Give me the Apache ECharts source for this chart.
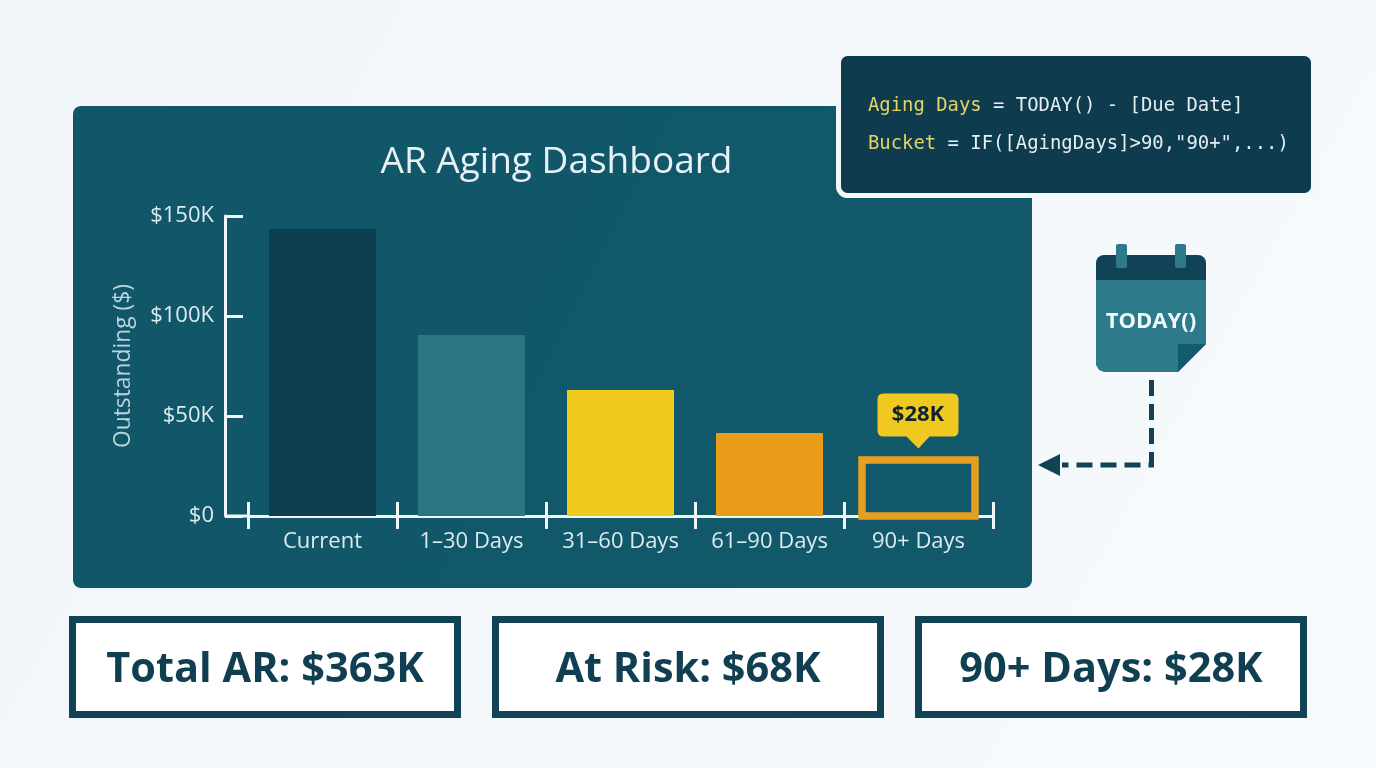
<!DOCTYPE html>
<html><head><meta charset="utf-8">
<style>html,body{margin:0;padding:0;background:#f4f8fb}#c{width:1376px;height:768px}</style>
<script src="https://cdn.jsdelivr.net/npm/echarts@6/dist/echarts.min.js"></script>
</head><body><div id="c"></div>
<script>
const categories = ['Current','1–30 Days','31–60 Days','61–90 Days','90+ Days'];
const outstanding = [143.5, 90.5, 63, 41.5, null];
const flagged = [[4, 28]];
const barColors = ['#0e3f50','#2b7585','#eecb1d','#e89c18'];
const yTicks = {min:0,max:150,interval:50};
const kpis = ['Total AR: $363K','At Risk: $68K','90+ Days: $28K'];
const kpiLefts = [72.5,495.5,918.5];

const dark='#0f4355', ink='#0f3f50', soft='#dcebee', line='#f0f6f7';
const sans='"Open Sans","Noto Sans",sans-serif', mono='"DejaVu Sans Mono",monospace';
const chart = echarts.init(document.getElementById('c'));

const graphics = [
  {type:'rect',z:-10,shape:{x:73,y:106,width:959,height:482,r:8},
   style:{fill:new echarts.graphic.LinearGradient(0,0,1,1,[{offset:0,color:'#115669'},{offset:1,color:'#11596b'}])}},
  {type:'line',z:1,shape:{x1:225,y1:516,x2:248,y2:516},style:{stroke:line,lineWidth:3}},
  // formula box
  {type:'rect',z:5,shape:{x:838.5,y:53.5,width:475,height:142,r:9},style:{fill:'#0e3b4d',stroke:'#f4f8fb',lineWidth:5}},
  {type:'text',z:6,x:868,y:106,style:{text:'{k|Aging Days} = TODAY() - [Due Date]',rich:{k:{fill:'#e2d565',font:'18.9px '+mono}},fill:'#e5eef0',font:'18.9px '+mono,verticalAlign:'middle'}},
  {type:'text',z:6,x:868,y:144,style:{text:'{k|Bucket} = IF([AgingDays]>90,"90+",...)',rich:{k:{fill:'#e2d565',font:'18.9px '+mono}},fill:'#e5eef0',font:'18.9px '+mono,verticalAlign:'middle'}},
  // calendar
  {type:'polygon',z:5,shape:{points:[[1096,270],[1206,270],[1206,344],[1178,372],[1104,372],[1099,370],[1096,365]]},style:{fill:'#2c7a8a'}},
  {type:'rect',z:5,shape:{x:1096,y:255,width:110,height:25,r:[8,8,0,0]},style:{fill:dark}},
  {type:'rect',z:6,shape:{x:1116,y:244,width:11,height:24,r:2},style:{fill:'#2c7a8a'}},
  {type:'rect',z:6,shape:{x:1175,y:244,width:11,height:24,r:2},style:{fill:'#2c7a8a'}},
  {type:'polygon',z:6,shape:{points:[[1178,344],[1206,344],[1178,372]]},style:{fill:'#125a70'}},
  {type:'text',z:6,x:1151,y:322,style:{text:'TODAY()',fill:'#f2f8f9',font:'bold 22px '+sans,align:'center',verticalAlign:'middle'}},
  // arrow
  {type:'polyline',z:5,shape:{points:[[1151.5,380],[1151.5,465],[1062,465]]},style:{stroke:dark,fill:'none',lineWidth:5,lineDash:[16,8]}},
  {type:'polygon',z:5,shape:{points:[[1038,465],[1060,454],[1060,476]]},style:{fill:dark}}
];
kpis.forEach((t,i)=>{
  graphics.push({type:'rect',z:5,shape:{x:kpiLefts[i],y:619.5,width:385,height:95},style:{fill:'#ffffff',stroke:dark,lineWidth:7}});
  graphics.push({type:'text',z:6,x:kpiLefts[i]+192.5,y:670,style:{text:t,fill:ink,font:'bold 41.5px '+sans,align:'center',verticalAlign:'middle'}});
});

const xBase = {type:'category',data:categories,position:'bottom',boundaryGap:true};
chart.setOption({
  animation:false,
  backgroundColor:new echarts.graphic.LinearGradient(0,0,1,1,[{offset:0,color:'#f0f6fa'},{offset:1,color:'#f7fafc'}]),
  title:{text:'AR Aging Dashboard',left:551.5,top:139,textAlign:'center',textStyle:{color:'#e8f2f4',fontFamily:sans,fontWeight:400,fontSize:37}},
  grid:{left:248,top:216,width:745,height:300,containLabel:false},
  xAxis:[
    {...xBase,
     axisLine:{lineStyle:{color:line,width:3}},
     axisTick:{show:true,alignWithLabel:false,length:13,lineStyle:{color:line,width:3}},
     axisLabel:{color:soft,fontFamily:sans,fontSize:22,margin:15,interval:0}},
    {...xBase,
     axisLine:{show:false},
     axisTick:{show:true,inside:true,length:14,lineStyle:{color:line,width:3}},
     axisLabel:{show:false}}
  ],
  yAxis:{type:'value',...yTicks,offset:23,
    name:'Outstanding ($)',nameLocation:'middle',nameGap:90,nameRotate:90,
    nameTextStyle:{color:'#b9d4da',fontFamily:sans,fontSize:22.8},
    axisLine:{show:true,lineStyle:{color:line,width:3}},
    axisTick:{show:true,inside:true,length:18,lineStyle:{color:line,width:3}},
    axisLabel:{color:soft,fontFamily:sans,fontSize:22,margin:11,padding:[6,0,0,0],formatter:v=>v===0?'$0':'$'+v+'K'},
    splitLine:{show:false}},
  series:[
    {type:'bar',name:'Outstanding',xAxisIndex:0,barWidth:107,
     data:outstanding.map((v,i)=>v==null?null:{value:v,itemStyle:{color:barColors[i]}})},
    {type:'custom',name:'90+ Days',xAxisIndex:1,z:3,clip:false,
     encode:{x:0,y:1},
     data:flagged,
     renderItem:(params,api)=>{
       const top=api.coord([api.value(0),api.value(1)]);
       const base=api.coord([api.value(0),0]);
       const w=113;
       return {type:'rect',shape:{x:top[0]-w/2,y:top[1],width:w,height:base[1]-top[1]},
               style:{fill:'none',stroke:'#e6a020',lineWidth:7.5}};
     },
     markPoint:{
       symbol:'path://M6 0H75Q81 0 81 6V37Q81 43 75 43H52L41 55L29 43H6Q0 43 0 37V6Q0 0 6 0Z',
       symbolSize:[81,55],symbolOffset:[-0.5,-39],silent:true,
       itemStyle:{color:'#f0c920'},
       label:{show:true,position:'inside',offset:[0,-6],color:'#10222b',fontFamily:sans,fontWeight:'bold',fontSize:22,formatter:p=>'$'+p.value+'K'},
       data:[{coord:[categories[flagged[0][0]],flagged[0][1]],value:flagged[0][1]}]
     }}
  ],
  graphic:{elements:graphics}
});
</script></body></html>
